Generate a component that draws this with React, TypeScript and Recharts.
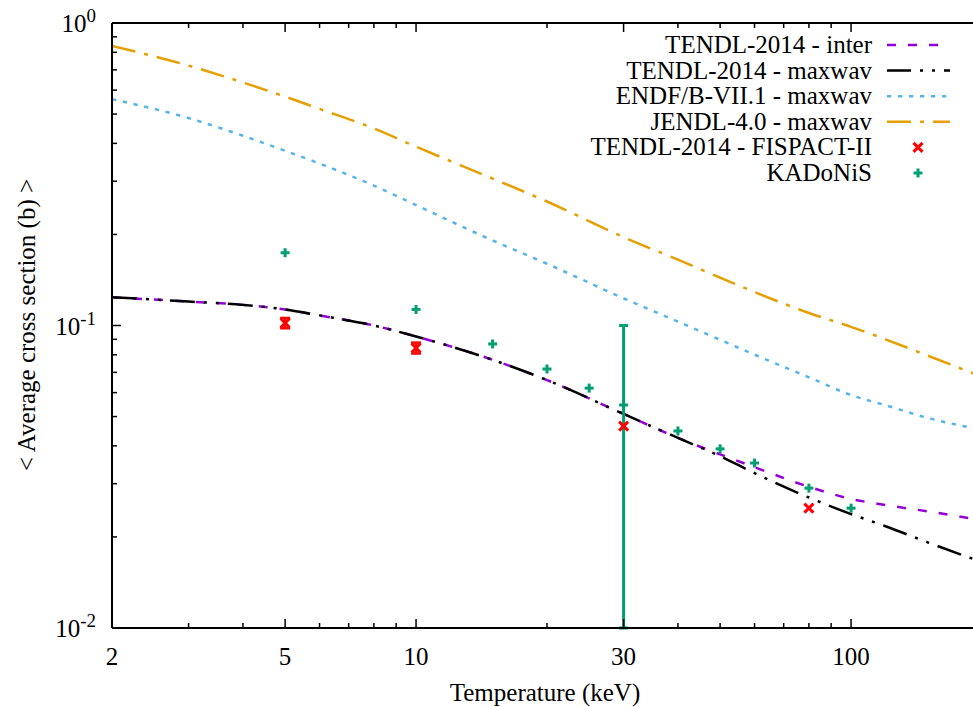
import React from 'react'
import { ComposedChart, Line, Scatter, XAxis, YAxis, ErrorBar } from 'recharts'

const temps = [2, 3, 4, 5, 6, 8, 10, 15, 20, 30, 40, 50, 60, 80, 100, 120, 150, 200]
const tendlInter = [0.124, 0.12, 0.117, 0.113, 0.108, 0.1, 0.092, 0.077, 0.066, 0.051, 0.0425, 0.0375, 0.034, 0.0293, 0.0267, 0.0255, 0.0243, 0.0227]
const tendlMaxwav = [0.124, 0.12, 0.117, 0.113, 0.108, 0.1, 0.092, 0.077, 0.066, 0.051, 0.0425, 0.037, 0.0325, 0.027, 0.0238, 0.0217, 0.0192, 0.0165]
const endfMaxwav = [0.56, 0.485, 0.424, 0.378, 0.343, 0.29, 0.25, 0.191, 0.16, 0.123, 0.103, 0.0897, 0.0801, 0.0674, 0.0589, 0.0545, 0.0495, 0.0452]
const jendlMaxwav = [0.84, 0.723, 0.636, 0.571, 0.52, 0.448, 0.39, 0.306, 0.257, 0.196, 0.165, 0.144, 0.129, 0.11, 0.099, 0.09, 0.0795, 0.0677]

// FISPACT-II points (with small error bars at 5 and 10 keV)
const fispactT = [5, 10, 30, 80]
const fispactV = [0.1019, 0.0843, 0.0465, 0.0249]
const fispactErr = [0.004, 0.0035, null, null]

// KADoNiS points, only 30 keV has an error bar
const kadonisT = [5, 10, 15, 20, 25, 30, 40, 50, 60, 80, 100]
const kadonisV = [0.174, 0.113, 0.0869, 0.0718, 0.0621, 0.0546, 0.0448, 0.0391, 0.0351, 0.029, 0.0249]
const kadonisErr = [null, null, null, null, null, [0.0446, 0.0454], null, null, null, null, null]

// axis ticks
const xTicks = [2, 3, 4, 5, 6, 7, 8, 9, 10, 20, 30, 40, 50, 60, 70, 80, 90, 100, 200]
const xLabelTicks = [2, 5, 10, 30, 100]
const yTicks = [0.01, 0.02, 0.03, 0.04, 0.05, 0.06, 0.07, 0.08, 0.09, 0.1, 0.2, 0.3, 0.4, 0.5, 0.6, 0.7, 0.8, 0.9, 1]

const FONT = "'Liberation Serif', 'Times New Roman', serif"

const curve = (vals: number[]) => temps.map((T, i) => ({ T, v: vals[i] }))
const points = (ts: number[], vs: number[], errs: any[]) => ts.map((T, i) => ({ T, v: vs[i], err: errs[i] }))

const interData = curve(tendlInter)
const maxwavData = curve(tendlMaxwav)
const endfData = curve(endfMaxwav)
const jendlData = curve(jendlMaxwav)
const fispactData = points(fispactT, fispactV, fispactErr)
const kadonisData = points(kadonisT, kadonisV, kadonisErr)

const isDecade = (v: number) => Math.abs(Math.log10(v) - Math.round(Math.log10(v))) < 1e-6

function BottomTick({ x, y, payload }: any) {
  const major = xLabelTicks.includes(payload.value)
  return (
    <g>
      <line x1={x} y1={y} x2={x} y2={y - (major ? 9 : 5)} stroke="#000" strokeWidth={1.5} />
      {major && (
        <text x={x} y={y + 37} textAnchor="middle" fontSize={25} fontFamily={FONT} fill="#000">
          {payload.value}
        </text>
      )}
    </g>
  )
}

function TopTick({ x, y, payload }: any) {
  const major = xLabelTicks.includes(payload.value)
  return <line x1={x} y1={y} x2={x} y2={y + (major ? 9 : 5)} stroke="#000" strokeWidth={1.5} />
}

function LeftTick({ x, y, payload }: any) {
  const major = isDecade(payload.value)
  const exp = Math.round(Math.log10(payload.value))
  return (
    <g>
      <line x1={x} y1={y} x2={x + (major ? 9 : 5)} y2={y} stroke="#000" strokeWidth={1.5} />
      {major && (
        <text x={x - 16} y={y + 9} textAnchor="end" fontSize={25} fontFamily={FONT} fill="#000">
          10<tspan dy={-10} fontSize={19}>{exp}</tspan>
        </text>
      )}
    </g>
  )
}

function RightTick({ x, y, payload }: any) {
  const major = isDecade(payload.value)
  return <line x1={x} y1={y} x2={x - (major ? 9 : 5)} y2={y} stroke="#000" strokeWidth={1.5} />
}

const RedCross = ({ cx, cy }: any) => (
  <g stroke="#ff0000" strokeWidth={3}>
    <line x1={cx - 4.5} y1={cy - 4.5} x2={cx + 4.5} y2={cy + 4.5} />
    <line x1={cx - 4.5} y1={cy + 4.5} x2={cx + 4.5} y2={cy - 4.5} />
  </g>
)

const GreenPlus = ({ cx, cy }: any) => (
  <g stroke="#009e73" strokeWidth={3}>
    <line x1={cx - 4.5} y1={cy} x2={cx + 4.5} y2={cy} />
    <line x1={cx} y1={cy - 4.5} x2={cx} y2={cy + 4.5} />
  </g>
)

const legendRows = [
  { name: 'TENDL-2014 - inter', color: '#9400d3', dash: '9 12' },
  { name: 'TENDL-2014 - maxwav', color: '#000000', dash: '24 9 3 9 3 9' },
  { name: 'ENDF/B-VII.1 - maxwav', color: '#56b4e9', dash: '4.3 6.7' },
  { name: 'JENDL-4.0 - maxwav', color: '#e69f00', dash: '24 9 4 9' },
  { name: 'TENDL-2014 - FISPACT-II', marker: 'x' },
  { name: 'KADoNiS', marker: '+' },
]

export default function App() {
  return (
    <div style={{ position: 'absolute', left: 0, top: 0, width: 973, height: 707, overflow: 'hidden', background: '#fff' }}>
      <ComposedChart width={1000} height={707} margin={{ top: 22, right: 17, left: 111, bottom: 78 }}>
        <XAxis
          dataKey="T" type="number" scale="log" domain={[2, 200]} allowDataOverflow
          ticks={xTicks} interval={0} tick={<BottomTick />} tickLine={false} tickSize={0} tickMargin={0}
          height={1} axisLine={{ stroke: '#000', strokeWidth: 2 }}
        />
        <XAxis
          xAxisId="top" orientation="top" dataKey="T" type="number" scale="log" domain={[2, 200]} allowDataOverflow
          ticks={xTicks} interval={0} tick={<TopTick />} tickLine={false} tickSize={0} tickMargin={0}
          height={1} axisLine={{ stroke: '#000', strokeWidth: 2 }}
        />
        <YAxis
          type="number" scale="log" domain={[0.01, 1]} allowDataOverflow
          ticks={yTicks} interval={0} tick={<LeftTick />} tickLine={false} tickSize={0} tickMargin={0}
          width={1} axisLine={{ stroke: '#000', strokeWidth: 2 }}
        />
        <YAxis
          yAxisId="right" orientation="right" type="number" scale="log" domain={[0.01, 1]} allowDataOverflow
          ticks={yTicks} interval={0} tick={<RightTick />} tickLine={false} tickSize={0} tickMargin={0}
          width={1} axisLine={{ stroke: '#000', strokeWidth: 2 }}
        />
        <Line data={interData} dataKey="v" type="monotone" stroke="#9400d3" strokeWidth={2.5}
          strokeDasharray="9 12" dot={false} activeDot={false} isAnimationActive={false} />
        <Line data={maxwavData} dataKey="v" type="monotone" stroke="#000" strokeWidth={2.5}
          strokeDasharray="25 9 3 9 3 9" dot={false} activeDot={false} isAnimationActive={false} />
        <Line data={endfData} dataKey="v" type="monotone" stroke="#56b4e9" strokeWidth={2.5}
          strokeDasharray="4.3 6.7" dot={false} activeDot={false} isAnimationActive={false} />
        <Line data={jendlData} dataKey="v" type="monotone" stroke="#e69f00" strokeWidth={2.5}
          strokeDasharray="24 9 4 9" dot={false} activeDot={false} isAnimationActive={false} />
        <Scatter data={fispactData} dataKey="v" shape={<RedCross />} isAnimationActive={false}>
          <ErrorBar dataKey="err" direction="y" width={5} stroke="#ff0000" strokeWidth={2.5} isAnimationActive={false} />
        </Scatter>
        <Scatter data={kadonisData} dataKey="v" shape={<GreenPlus />} isAnimationActive={false}>
          <ErrorBar dataKey="err" direction="y" width={4.5} stroke="#009e73" strokeWidth={3} isAnimationActive={false} />
        </Scatter>
      </ComposedChart>
      <svg width={973} height={707} style={{ position: 'absolute', left: 0, top: 0, pointerEvents: 'none' }}>
        <text x={545} y={701} textAnchor="middle" fontSize={25} fontFamily={FONT} fill="#000">
          Temperature (keV)
        </text>
        <text transform="translate(35,325) rotate(-90)" textAnchor="middle" fontSize={25} fontFamily={FONT} fill="#000">
          {'< Average cross section (b) >'}
        </text>
        {legendRows.map((r, i) => {
          const cy = 45 + i * 25.6
          return (
            <g key={r.name}>
              <text x={872} y={cy + 8} textAnchor="end" fontSize={25} fontFamily={FONT} fill="#000">
                {r.name}
              </text>
              {r.dash && (
                <line x1={887} y1={cy} x2={950} y2={cy} stroke={r.color} strokeWidth={2.5} strokeDasharray={r.dash} />
              )}
              {r.marker === 'x' && <RedCross cx={918} cy={cy} />}
              {r.marker === '+' && <GreenPlus cx={918} cy={cy} />}
            </g>
          )
        })}
      </svg>
    </div>
  )
}
